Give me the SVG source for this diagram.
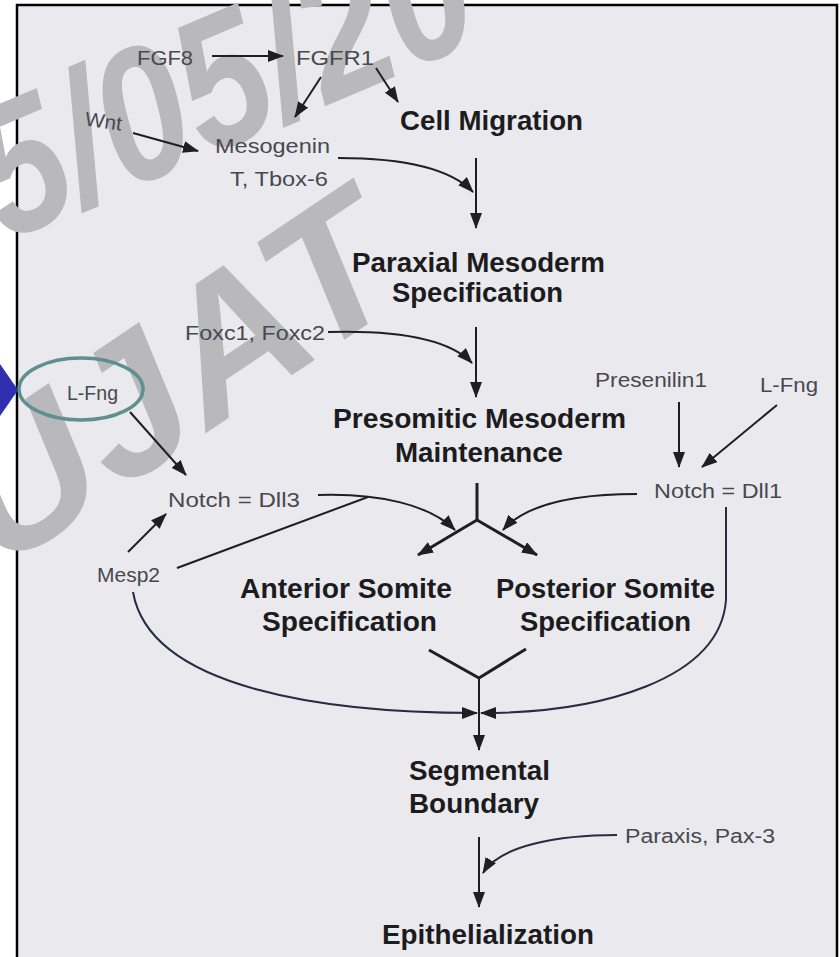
<svg xmlns="http://www.w3.org/2000/svg" width="840" height="957" viewBox="0 0 840 957">
<defs>
<marker id="ah" markerUnits="userSpaceOnUse" markerWidth="16" markerHeight="12" refX="15" refY="6" orient="auto">
<path d="M0,0 L16,6 L0,12 z" fill="#1e1e24"/>
</marker>
<style>
.lbl{font-family:"Liberation Sans",Arial,sans-serif;font-size:20px;fill:#484850}
.hd{font-family:"Liberation Sans",Arial,sans-serif;font-size:27px;font-weight:bold;fill:#1c1c20}
.wm{font-family:"Liberation Sans",Arial,sans-serif;font-size:188px;font-weight:bold;font-style:italic;fill:#b9b9bb}
.ln{fill:none;stroke:#1e1e24;stroke-width:2}
.thk{fill:none;stroke:#1e1e24;stroke-width:3}
.cv{fill:none;stroke:#2a2a44;stroke-width:2}
</style>
</defs>
<rect x="0" y="0" width="840" height="957" fill="#ffffff"/>
<rect x="17" y="5" width="820" height="960" fill="#eaeaee" stroke="#000" stroke-width="2.5"/>
<g id="watermark">
<text class="wm" transform="translate(5,242) rotate(-23)" textLength="525" lengthAdjust="spacingAndGlyphs">5/05/20</text>
<text class="wm" transform="translate(0,572) rotate(-34)" textLength="500" lengthAdjust="spacingAndGlyphs">UJAT</text>
</g>
<g id="connectors">
<path class="ln" d="M212,56 L283,56" marker-end="url(#ah)"/>
<path class="ln" d="M321,77 L295,117" marker-end="url(#ah)"/>
<path class="ln" d="M376,68 L398,102" marker-end="url(#ah)"/>
<path class="ln" d="M133,133 L198,151" marker-end="url(#ah)"/>
<path class="ln" d="M338,158 C400,158 450,168 473,192" marker-end="url(#ah)"/>
<path class="ln" d="M476,158 L476,228" marker-end="url(#ah)"/>
<path class="ln" d="M328,332 C400,330 450,340 472,363" marker-end="url(#ah)"/>
<path class="ln" d="M476,327 L476,397" marker-end="url(#ah)"/>
<path class="ln" d="M130,412 L186,475" marker-end="url(#ah)"/>
<path class="ln" d="M679,402 L679,467" marker-end="url(#ah)"/>
<path class="ln" d="M777,405 L702,467" marker-end="url(#ah)"/>
<path class="ln" d="M128,552 L166,514" marker-end="url(#ah)"/>
<path class="ln" d="M318,495 C380,493 430,505 455,530" marker-end="url(#ah)"/>
<path class="ln" d="M177,568 L368,497"/>
<path class="ln" d="M637,494 C570,494 525,505 503,530" marker-end="url(#ah)"/>
<path class="thk" d="M477,483 L477,520"/>
<path class="thk" d="M477,520 L418,555" marker-end="url(#ah)"/>
<path class="thk" d="M477,520 L537,555" marker-end="url(#ah)"/>
<path class="cv" d="M133,592 C150,690 330,713 477,713" marker-end="url(#ah)"/>
<path class="cv" d="M726,507 L726,600 C720,680 600,713 481,713" marker-end="url(#ah)"/>
<path class="thk" d="M429,650 L479,678 L526,649"/>
<path class="ln" d="M479,678 L479,750" marker-end="url(#ah)"/>
<path class="ln" d="M479,837 L479,907" marker-end="url(#ah)"/>
<path class="cv" d="M617,835 C560,835 500,845 483,873" marker-end="url(#ah)"/>
</g>
<g id="n-fgf8"><text class="lbl" x="137" y="65" textLength="56" lengthAdjust="spacingAndGlyphs">FGF8</text></g>
<g id="n-fgfr1"><text class="lbl" x="296" y="65" textLength="78" lengthAdjust="spacingAndGlyphs">FGFR1</text></g>
<g id="n-wnt"><text class="lbl" x="85" y="128" font-size="16" textLength="37" lengthAdjust="spacingAndGlyphs" transform="rotate(8 103 122)">Wnt</text></g>
<g id="n-cellmig"><text class="hd" x="400" y="130" textLength="183" lengthAdjust="spacingAndGlyphs">Cell Migration</text></g>
<g id="n-mesogenin">
<text class="lbl" x="215" y="153" textLength="115" lengthAdjust="spacingAndGlyphs">Mesogenin</text>
<text class="lbl" x="230" y="186" textLength="98" lengthAdjust="spacingAndGlyphs">T, Tbox-6</text>
</g>
<g id="n-paraxial">
<text class="hd" x="352" y="272" textLength="253" lengthAdjust="spacingAndGlyphs">Paraxial Mesoderm</text>
<text class="hd" x="392" y="302" textLength="171" lengthAdjust="spacingAndGlyphs">Specification</text>
</g>
<g id="n-foxc"><text class="lbl" x="185" y="340" textLength="140" lengthAdjust="spacingAndGlyphs">Foxc1, Foxc2</text></g>
<g id="n-lfng-left">
<text class="lbl" x="67" y="400" font-size="17" textLength="51" lengthAdjust="spacingAndGlyphs">L-Fng</text>
</g>
<g id="n-presomitic">
<text class="hd" x="333" y="428" textLength="293" lengthAdjust="spacingAndGlyphs">Presomitic Mesoderm</text>
<text class="hd" x="395" y="462" textLength="168" lengthAdjust="spacingAndGlyphs">Maintenance</text>
</g>
<g id="n-presenilin"><text class="lbl" x="595" y="387" textLength="112" lengthAdjust="spacingAndGlyphs">Presenilin1</text></g>
<g id="n-lfng-right"><text class="lbl" x="760" y="392" textLength="58" lengthAdjust="spacingAndGlyphs">L-Fng</text></g>
<g id="n-dll3"><text class="lbl" x="168" y="507" textLength="132" lengthAdjust="spacingAndGlyphs">Notch = Dll3</text></g>
<g id="n-dll1"><text class="lbl" x="654" y="498" textLength="128" lengthAdjust="spacingAndGlyphs">Notch = Dll1</text></g>
<g id="n-mesp2"><text class="lbl" x="97" y="582" font-size="18" textLength="63" lengthAdjust="spacingAndGlyphs">Mesp2</text></g>
<g id="n-anterior">
<text class="hd" x="240" y="598" textLength="212" lengthAdjust="spacingAndGlyphs">Anterior Somite</text>
<text class="hd" x="262" y="631" textLength="175" lengthAdjust="spacingAndGlyphs">Specification</text>
</g>
<g id="n-posterior">
<text class="hd" x="496" y="598" textLength="219" lengthAdjust="spacingAndGlyphs">Posterior Somite</text>
<text class="hd" x="520" y="631" textLength="171" lengthAdjust="spacingAndGlyphs">Specification</text>
</g>
<g id="n-segmental">
<text class="hd" x="409" y="780" textLength="141" lengthAdjust="spacingAndGlyphs">Segmental</text>
<text class="hd" x="409" y="813" textLength="130" lengthAdjust="spacingAndGlyphs">Boundary</text>
</g>
<g id="n-paraxis"><text class="lbl" x="625" y="843" textLength="150" lengthAdjust="spacingAndGlyphs">Paraxis, Pax-3</text></g>
<g id="n-epith"><text class="hd" x="382" y="944" textLength="212" lengthAdjust="spacingAndGlyphs">Epithelialization</text></g>
<g id="annotation">
<ellipse cx="81" cy="389" rx="62" ry="31" fill="none" stroke="#5f8f8f" stroke-width="3.5"/>
<polygon points="0,364 18,390 0,416" fill="#2f2fb0"/>
</g>
</svg>
